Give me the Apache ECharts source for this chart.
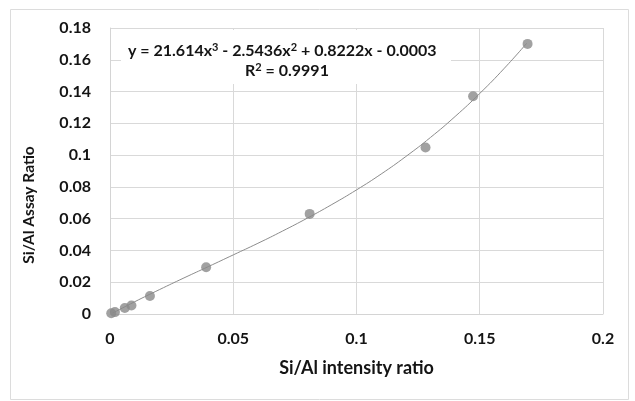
<!DOCTYPE html>
<html><head><meta charset="utf-8">
<script src="https://cdn.jsdelivr.net/npm/echarts@6/dist/echarts.min.js"></script>
<style>html,body{margin:0;padding:0;background:#fff}#c{width:635px;height:401px}</style>
</head><body><div id="c"></div>
<script>
// Measured points (Si/Al intensity ratio, Si/Al assay ratio)
const intensityRatio = [0.0005, 0.002, 0.006, 0.0087, 0.0162, 0.039, 0.081, 0.128, 0.1473, 0.1694];
const assayRatio     = [0.0005, 0.0012, 0.0038, 0.0053, 0.0113, 0.0294, 0.063, 0.1048, 0.137, 0.170];
// Trend line
const trendX = [0.001, 0.01, 0.02, 0.03, 0.04, 0.05, 0.06, 0.07, 0.08, 0.09, 0.10, 0.11, 0.12, 0.13, 0.14, 0.15, 0.16, 0.169];
const trendY = [0.0005, 0.0077, 0.0153, 0.0227, 0.0299, 0.0372, 0.0445, 0.0522, 0.0603, 0.0689, 0.0781, 0.0881, 0.0991, 0.1111, 0.1243, 0.1388, 0.1547, 0.1703];
const equationText = 'y = 21.614x{s|3} - 2.5436x{s|2} + 0.8222x - 0.0003';
const r2Text = 'R{s|2} = 0.9991';
const xTitle = 'Si/Al intensity ratio';
const yTitle = 'Si/Al Assay Ratio';

const font = 'Lato, "Open Sans", sans-serif';
const txt = '#141414';
const chart = echarts.init(document.getElementById('c'), null, {renderer: 'canvas'});
const rich = {s: {fontFamily: font, fontWeight: 'bold', fontSize: 11, verticalAlign: 'top', lineHeight: 18, fill: txt, color: txt}};
chart.setOption({
  backgroundColor: '#fff',
  animation: false,
  grid: {left: 110, right: 32, top: 28, bottom: 87},
  xAxis: {
    type: 'value', min: 0, max: 0.2, interval: 0.05,
    name: xTitle, nameLocation: 'middle', nameGap: 45,
    nameTextStyle: {fontFamily: font, fontWeight: 'bold', fontSize: 18, color: txt},
    axisLine: {show: true, lineStyle: {color: '#d4d4d4'}},
    axisTick: {show: false},
    axisLabel: {fontFamily: font, fontWeight: 'bold', fontSize: 16, color: txt, margin: 17,
      formatter: v => String(+v.toFixed(2))},
    splitLine: {show: true, lineStyle: {color: '#d9d9d9'}}
  },
  yAxis: {
    type: 'value', min: 0, max: 0.18, interval: 0.02,
    axisLine: {show: true, lineStyle: {color: '#d4d4d4'}},
    axisTick: {show: false},
    axisLabel: {fontFamily: font, fontWeight: 'bold', fontSize: 16, color: txt, margin: 19,
      formatter: v => String(+v.toFixed(2))},
    splitLine: {show: true, lineStyle: {color: '#d9d9d9'}}
  },
  graphic: [
    {type: 'rect', left: 8, top: 7, shape: {width: 618, height: 390}, style: {fill: 'none', stroke: '#dcdcdc', lineWidth: 1}, silent: true, z: -10},
    {type: 'rect', left: 121, top: 30, shape: {width: 330, height: 54}, style: {fill: '#fff'}, z: 50},
    {type: 'text', left: 128, top: 42, z: 51, style: {text: equationText, rich: rich, fontFamily: font, fontWeight: 'bold', fontSize: 16, lineHeight: 18, fill: txt}},
    {type: 'text', left: 245, top: 62, z: 51, style: {text: r2Text, rich: rich, fontFamily: font, fontWeight: 'bold', fontSize: 16, lineHeight: 18, fill: txt}},
    {type: 'text', x: 29, y: 205, rotation: Math.PI / 2, z: 51, style: {text: yTitle, fontFamily: font, fontWeight: 'bold', fontSize: 15.5, fill: txt, align: 'center', verticalAlign: 'middle'}}
  ],
  series: [
    {
      type: 'line', smooth: true, showSymbol: false, z: 2,
      data: trendX.map((x, i) => [x, trendY[i]]),
      lineStyle: {color: '#8c8c8c', width: 1}
    },
    {
      type: 'scatter', symbol: 'circle', symbolSize: 10, z: 3,
      data: intensityRatio.map((x, i) => [x, assayRatio[i]]),
      itemStyle: {color: '#8a8a8a'}
    }
  ]
});
</script></body></html>
